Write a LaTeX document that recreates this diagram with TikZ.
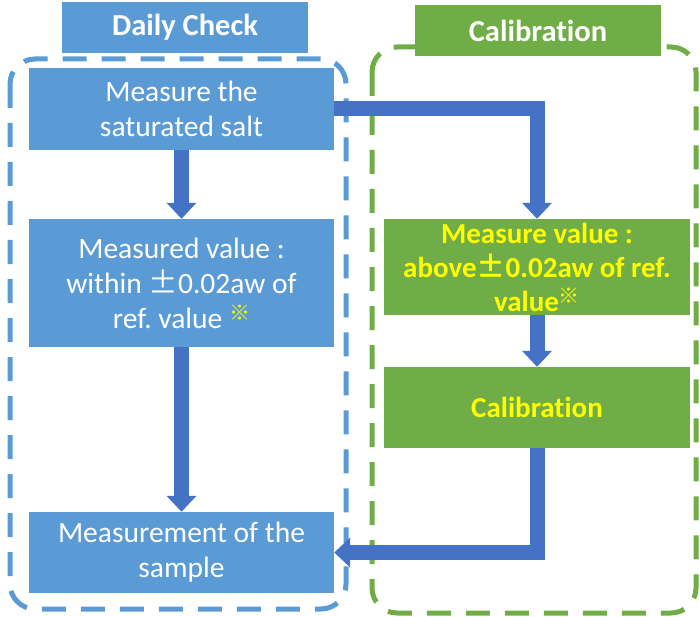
\documentclass[tikz,border=0pt]{standalone}
\usepackage{fontspec}
\setmainfont{Carlito}[Ligatures={NoCommon}]
\newfontfamily\cjk{Noto Sans CJK JP}[BoldFont={Noto Sans CJK JP Bold}, CharacterWidth=Full]
\usetikzlibrary{arrows.meta, positioning}
\definecolor{boxblue}{HTML}{5B9BD5}
\definecolor{arrblue}{HTML}{4472C4}
\definecolor{boxgreen}{HTML}{70AD47}
\definecolor{markyellow}{HTML}{FFFF00}
\frenchspacing
\newcommand{\plmi}{{\cjk ±}}
\newcommand{\kome}{\raisebox{8pt}{\fontsize{21}{21}\selectfont\cjk\bfseries\color{markyellow}※}}

\begin{document}
\begin{tikzpicture}[
  x=1pt, y=-1pt,
  box/.style={fill=boxblue, text=white, minimum width=305pt, align=center,
              inner sep=0pt, font=\fontsize{29.5}{35}\selectfont},
  gbox/.style={fill=boxgreen, text=markyellow, minimum width=306pt, align=center,
               inner sep=0pt, font=\bfseries\fontsize{29}{34}\selectfont},
  head/.style={minimum width=246pt, minimum height=51pt, inner sep=0pt,
               text=white, font=\bfseries\fontsize{30.5}{34}\selectfont},
  frame/.style={line width=5pt, rounded corners=25pt, dash pattern=on 24pt off 15pt},
  arr/.style={-{Triangle[length=16pt, width=29pt]}, line width=15pt, arrblue, line join=miter}
]
  \useasboundingbox (0,0) rectangle (700,617);
  \draw[frame, boxblue]  (10,59) rectangle (346,609);
  \draw[frame, boxgreen] (372,47) rectangle (696,613);
  \node[head, fill=boxblue]  (dh) at (185,27.5) {Daily Check};
  \node[head, fill=boxgreen] (ch) at (538,30.5) {Calibration};
  \node[box, minimum height=82pt]  (salt)   at (181.5,109)   {Measure the\\saturated salt};
  \node[box, minimum height=128pt] (within) at (181.5,283)   {Measured value :\\within \plmi0.02aw of\\ref. value \kome};
  \node[box, minimum height=81pt]  (sample) at (181.5,552.5) {Measurement of the\\sample};
  \node[gbox, minimum height=96pt] (above)  at (537,267)     {Measure value :\\above\plmi0.02aw of ref.\\value\kome};
  \node[gbox, minimum height=81pt] (calib)  at (537,407.5)   {Calibration};
  \draw[arr] (salt) -- (within);
  \draw[arr] (within) -- (sample);
  \draw[arr] (salt.east) -| (above.north);
  \draw[arr] (above) -- (calib);
  \draw[arr] (calib.south) |- (sample.east);
\end{tikzpicture}
\end{document}
